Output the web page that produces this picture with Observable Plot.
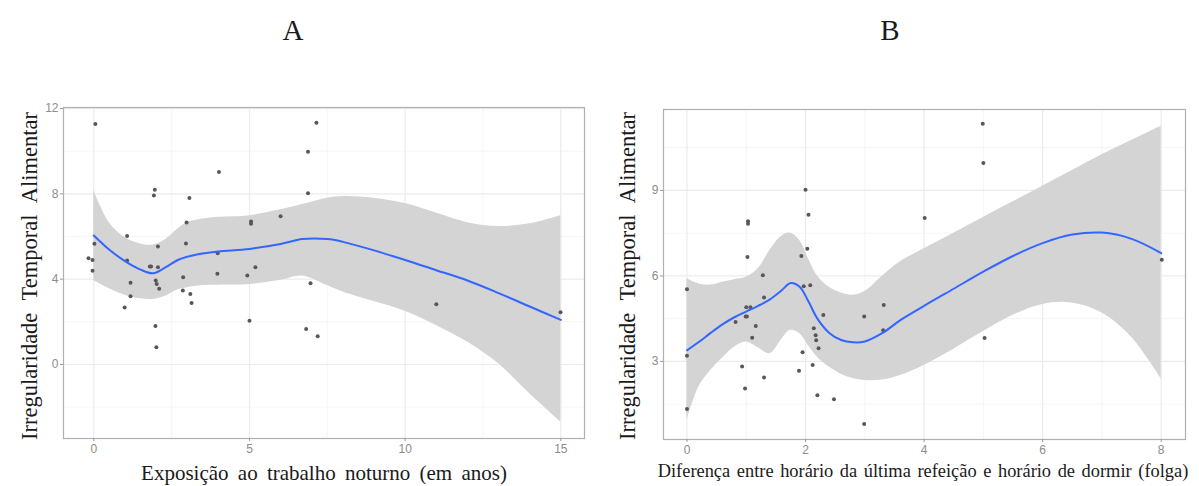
<!DOCTYPE html>
<html><head><meta charset="utf-8">
<script src="https://cdn.jsdelivr.net/npm/d3@7"></script>
<script src="https://cdn.jsdelivr.net/npm/@observablehq/plot@0.6"></script>
<style>
body{margin:0;background:#fff;}
#wrap{position:relative;width:1199px;height:486px;overflow:hidden;font-family:"Liberation Serif","Times New Roman",serif;}
.panel{position:absolute;top:0;}
.lab{position:absolute;white-space:nowrap;color:#1a1a1a;line-height:1;}
</style></head><body><div id="wrap"></div><script>
// ---------- Panel A data ----------
const panelALetter = "A";
const ptsAx = [0.05,4.02,1.96,1.93,3.07,6.0,2.98,5.05,5.05,1.07,0.02,2.06,2.96,-0.17,-0.04,1.07,3.98,1.8,1.84,2.06,-0.04,3.97,4.93,5.19,2.87,1.18,1.99,2.02,2.1,1.18,0.99,2.86,3.1,3.14,1.98,2.01,5.0,7.15,6.88,6.88,6.96,6.82,7.19,11.0,14.99];
const ptsAy = [11.28,9.02,8.19,7.92,7.81,6.95,6.66,6.7,6.6,6.02,5.66,5.53,5.67,4.98,4.9,4.88,5.22,4.6,4.6,4.56,4.39,4.25,4.17,4.56,4.09,3.83,3.94,3.78,3.55,3.2,2.67,3.47,3.31,2.88,1.81,0.81,2.05,11.33,9.97,8.03,3.81,1.66,1.33,2.83,2.45];
const smAx   = [0,0.5,1,1.5,1.9,2.3,2.7,3,3.5,4,5,6,6.7,7.5,8,9,10,11,12,13,14,15];
const smAfit = [6.05,5.38,4.85,4.45,4.28,4.55,4.9,5.05,5.2,5.3,5.42,5.65,5.88,5.88,5.75,5.35,4.9,4.42,3.94,3.35,2.72,2.09];
const smAlo  = [3.94,3.55,3.25,3.08,3.05,3.2,3.5,3.6,3.7,3.72,3.75,3.95,4.15,3.7,3.4,2.95,2.5,1.83,1.05,0.03,-1.37,-2.7];
const smAhi  = [8.16,6.65,5.95,5.65,5.6,5.85,6.35,6.65,6.82,6.9,6.98,7.25,7.5,7.8,7.88,7.8,7.55,7.1,6.65,6.47,6.6,6.98];
const xMajorA = [0,5,10,15], xMinorA = [2.5,7.5,12.5];
const yMajorA = [0,4,8,12], yMinorA = [-2,2,6,10];
const xLabelA = "Exposição ao trabalho noturno (em anos)";

// ---------- Panel B data ----------
const panelBLetter = "B";
const ptsBx = [2.0,2.05,1.03,1.03,2.03,1.93,1.02,1.28,0,1.97,2.08,1.3,1.0,1.07,0.99,1.01,0.82,1.16,1.1,2.3,2.14,2.17,2.18,2.22,1.95,0,2.12,0.93,1.89,1.3,0.98,2.2,2.48,0,2.99,2.99,3.32,3.31,4.99,5.0,4.01,8.01,5.02];
const ptsBy = [9.02,8.15,7.92,7.83,6.95,6.7,6.66,6.02,5.53,5.64,5.67,5.24,4.9,4.9,4.58,4.58,4.38,4.24,3.83,4.63,4.16,3.92,3.74,3.46,3.32,3.2,2.87,2.82,2.67,2.44,2.05,1.81,1.67,1.33,0.8,4.58,4.98,4.09,11.34,9.96,8.03,6.57,3.82];
const smBx   = [0,0.2,0.4,0.6,0.8,1.0,1.2,1.4,1.6,1.75,1.9,2.05,2.2,2.4,2.6,2.8,3.0,3.3,3.6,4.0,4.5,5.0,5.5,6.0,6.5,7.0,7.5,8.0];
const smBfit = [3.39,3.68,4.0,4.3,4.55,4.75,4.95,5.18,5.5,5.75,5.62,5.1,4.5,4.0,3.75,3.67,3.7,4.0,4.45,4.95,5.55,6.15,6.7,7.15,7.45,7.52,7.3,6.8];
const smBlo  = [0.93,2.1,2.68,3.12,3.5,3.68,3.48,3.27,3.78,4.09,3.98,3.55,3.15,2.8,2.55,2.4,2.33,2.35,2.51,2.86,3.43,4.05,4.62,5.0,5.05,4.7,3.85,2.39];
const smBhi  = [5.9,5.72,5.68,5.78,5.87,5.95,6.25,6.9,7.4,7.5,7.25,6.6,6.0,5.6,5.4,5.32,5.45,6.0,6.5,6.95,7.5,8.05,8.6,9.15,9.7,10.25,10.75,11.25];
const xMajorB = [0,2,4,6,8], xMinorB = [1,3,5,7];
const yMajorB = [3,6,9], yMinorB = [1.5,4.5,7.5,10.5];
const xLabelB = "Diferença entre horário da última refeição e horário de dormir (folga)";

const yLabel = "Irregularidade Temporal Alimentar";

function makePanel(o) {
  const pts = o.px.map((x, i) => ({x, y: o.py[i]}));
  const sm = o.sx.map((x, i) => ({x, fit: o.fit[i], lo: o.lo[i], hi: o.hi[i]}));
  return Plot.plot({
    width: 600, height: 486,
    marginLeft: o.m[0], marginRight: o.m[1], marginTop: o.m[2], marginBottom: o.m[3],
    style: {color: "#8c8c8c", fontFamily: "'Liberation Sans', Arial, sans-serif", fontSize: "12px", background: "white"},
    x: {domain: o.xd, label: null},
    y: {domain: o.yd, label: null},
    marks: [
      Plot.ruleX(o.xMinor, {stroke: "#f3f3f3", strokeWidth: 0.8}),
      Plot.ruleY(o.yMinor, {stroke: "#f3f3f3", strokeWidth: 0.8}),
      Plot.ruleX(o.xMajor, {stroke: "#ebebeb", strokeWidth: 1.2}),
      Plot.ruleY(o.yMajor, {stroke: "#ebebeb", strokeWidth: 1.2}),
      Plot.areaY(sm, {x: "x", y1: "lo", y2: "hi", fill: "#d4d4d4", curve: "catmull-rom"}),
      Plot.dot(pts, {x: "x", y: "y", r: 2, fill: "#575757", stroke: "none"}),
      Plot.line(sm, {x: "x", y: "fit", stroke: "#3366FF", strokeWidth: 2, curve: "catmull-rom"}),
      Plot.frame({stroke: "#b0b0b0", strokeWidth: 1.2}),
      Plot.axisX({ticks: o.xMajor, tickSize: 3, tickPadding: 3, stroke: "#9a9a9a", fill: "#8c8c8c", label: null}),
      Plot.axisY({ticks: o.yMajor, tickSize: 3, tickPadding: 2, stroke: "#9a9a9a", fill: "#8c8c8c", label: null})
    ]
  });
}

const wrap = document.getElementById("wrap");
const pA = makePanel({px: ptsAx, py: ptsAy, sx: smAx, fit: smAfit, lo: smAlo, hi: smAhi,
  xd: [-0.973, 15.76], yd: [-3.47, 12.05], xMajor: xMajorA, xMinor: xMinorA, yMajor: yMajorA, yMinor: yMinorA,
  m: [63, 16, 107, 48]});
pA.classList.add("panel"); pA.style.left = "0px";
wrap.appendChild(pA);
const pB = makePanel({px: ptsBx, py: ptsBy, sx: smBx, fit: smBfit, lo: smBlo, hi: smBhi,
  xd: [-0.396, 8.41], yd: [0.26, 11.84], xMajor: xMajorB, xMinor: xMinorB, yMajor: yMajorB, yMinor: yMinorB,
  m: [63, 15, 109, 47]});
pB.classList.add("panel"); pB.style.left = "600px";
wrap.appendChild(pB);

function label(text, cx, cy, size, rot, ws) {
  const d = document.createElement("div");
  d.className = "lab";
  d.textContent = text;
  d.style.fontSize = size + "px";
  d.style.wordSpacing = (ws || 0) + "px";
  d.style.left = cx + "px";
  d.style.top = cy + "px";
  d.style.transform = "translate(-50%,-50%)" + (rot ? " rotate(" + rot + "deg)" : "");
  wrap.appendChild(d);
}
label(panelALetter, 293, 30, 29, 0, 0);
label(panelBLetter, 890, 30, 29, 0, 0);
label(yLabel, 30, 276, 22.5, -90, 7);
label(yLabel, 628, 276, 22.5, -90, 7);
label(xLabelA, 324, 473, 21, 0, 4);
label(xLabelB, 923, 471, 18.4, 0, 2);
</script></body></html>
